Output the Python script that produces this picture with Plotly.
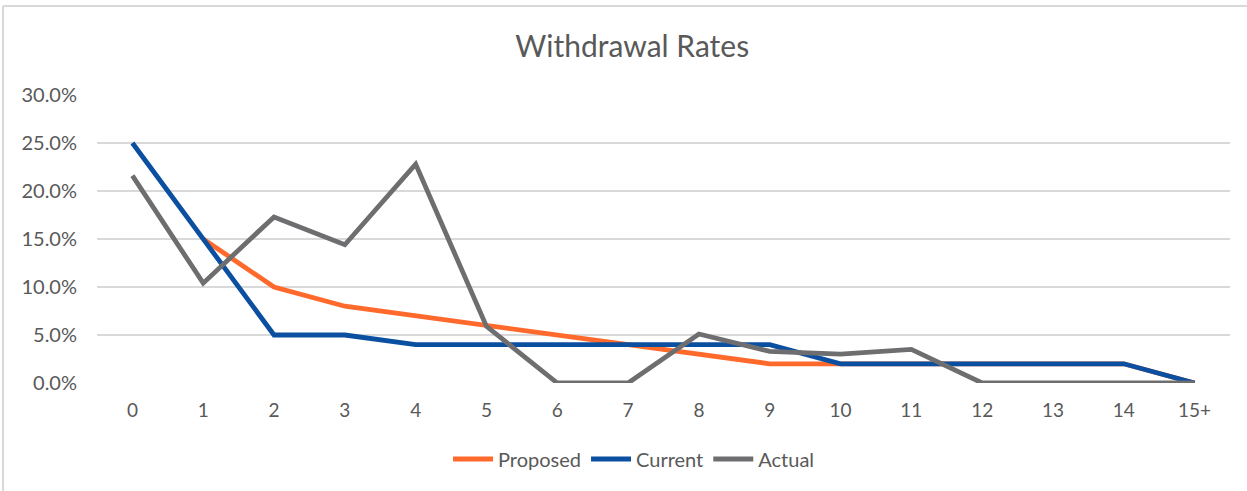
import plotly.graph_objects as go

categories = ["0", "1", "2", "3", "4", "5", "6", "7", "8", "9", "10", "11", "12", "13", "14", "15+"]
proposed = [None, 0.15, 0.10, 0.08, 0.07, 0.06, 0.05, 0.04, 0.03, 0.02, 0.02, 0.02, 0.02, 0.02, 0.02, 0.0]
current = [0.25, 0.15, 0.05, 0.05, 0.04, 0.04, 0.04, 0.04, 0.04, 0.04, 0.02, 0.02, 0.02, 0.02, 0.02, 0.0]
actual = [0.216, 0.104, 0.173, 0.144, 0.228, 0.059, 0.0, 0.0, 0.051, 0.033, 0.030, 0.035, 0.0, 0.0, 0.0, 0.0]

FONT = "Lato, 'Open Sans', sans-serif"
TXT = "#595959"

W, H = 1247, 491
L, R, T, B = 97, 17, 95, 108
pw, ph = W - L - R, H - T - B

def px2paper_x(px):
    return (px - L) / pw

def px2paper_y(py):
    return (H - B - py) / ph

fig = go.Figure()
series = [("Proposed", proposed, "#FF6A2C"), ("Current", current, "#0B4FA0"), ("Actual", actual, "#6E6E70")]
for name, vals, col in series:
    fig.add_trace(go.Scatter(x=categories, y=vals, name=name, mode="lines",
                             line=dict(color=col, width=4.8), connectgaps=False))

fig.update_layout(
    width=W, height=H,
    margin=dict(l=L, r=R, t=T, b=B),
    paper_bgcolor="white", plot_bgcolor="white",
    font=dict(family=FONT, color=TXT, size=20),
    title=dict(text="Withdrawal Rates", x=0.507, xanchor="center", y=1 - 46 / H, yanchor="middle",
               font=dict(size=30, color=TXT, family=FONT)),
    showlegend=True,
    legend=dict(orientation="h", x=0.474, xanchor="center", y=px2paper_y(459), yanchor="middle",
                font=dict(size=20, color=TXT), itemwidth=40, traceorder="normal"),
    xaxis=dict(type="category", range=[-0.5, 15.5], showgrid=False, zeroline=False, showline=False,
               ticks="", tickfont=dict(size=19, color=TXT), ticklabelstandoff=14),
    yaxis=dict(range=[0, 0.30], dtick=0.05, tickformat=".1%", showgrid=True, gridcolor="#D9D9D9",
               gridwidth=1.5, zeroline=False, showline=False, ticks="",
               tickfont=dict(size=20, color=TXT), ticklabelstandoff=19),
    shapes=[
        dict(type="line", xref="paper", yref="paper", x0=px2paper_x(3), x1=px2paper_x(W + 5),
             y0=px2paper_y(6), y1=px2paper_y(6), line=dict(color="#D9D9D9", width=2)),
        dict(type="line", xref="paper", yref="paper", x0=px2paper_x(3), x1=px2paper_x(3),
             y0=px2paper_y(6), y1=px2paper_y(H + 5), line=dict(color="#D9D9D9", width=2)),
    ],
)

fig.write_html("out.html")
